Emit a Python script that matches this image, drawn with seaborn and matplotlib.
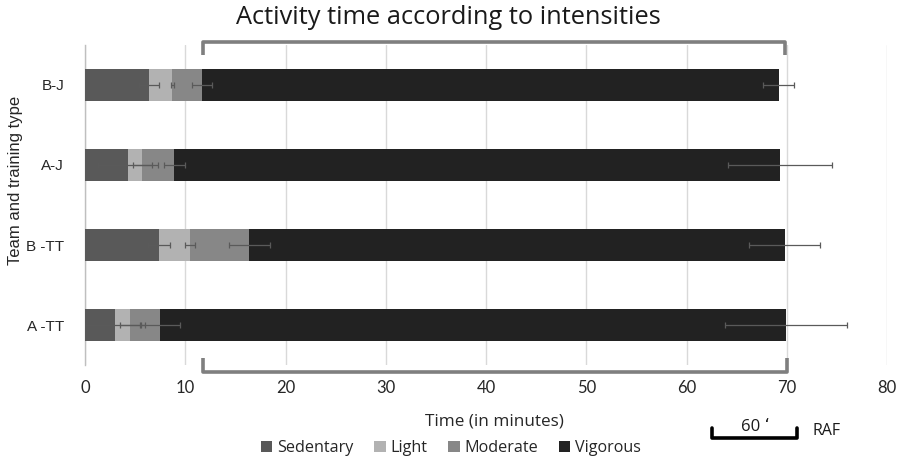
import numpy as np
import pandas as pd
import matplotlib
matplotlib.use("Agg")
import matplotlib.pyplot as plt
import seaborn as sns
from matplotlib.patches import Patch
from matplotlib.transforms import blended_transform_factory

# ---------------- data ----------------
categories = ["B-J", "A-J", "B -TT", "A -TT"]
intensities = ["Sedentary", "Light", "Moderate", "Vigorous"]
sedentary = [6.4, 4.25, 7.4, 3.0]
light = [2.3, 1.45, 3.1, 1.5]
moderate = [3.0, 3.2, 5.9, 3.0]
vigorous = [57.5, 60.4, 53.4, 62.4]
err_sedentary = [1.0, 3.0, 1.1, 3.0]
err_light = [0.15, 0.95, 0.5, 1.05]
err_moderate = [1.0, 1.05, 2.05, 2.0]
err_vigorous = [1.55, 5.2, 3.55, 6.1]
x_ticks = [0, 10, 20, 30, 40, 50, 60, 70, 80]
title = "Activity time according to intensities"
x_label = "Time (in minutes)"
y_label = "Team and training type"

colors = ["#595959", "#b2b2b2", "#878787", "#222222"]

sns.set_theme(style="white")
plt.rcParams["font.family"] = ["Lato", "DejaVu Sans"]

W, H = 902, 461
fig = plt.figure(figsize=(W / 100, H / 100), dpi=100)
ax = fig.add_axes([85 / W, 1 - 365 / H, 802 / W, 320 / H])

segs = np.array([sedentary, light, moderate, vigorous])
errs = np.array([err_sedentary, err_light, err_moderate, err_vigorous])
cum = np.cumsum(segs, axis=0)

# stacked bars: draw cumulative totals from largest to smallest
for i in reversed(range(len(intensities))):
    df = pd.DataFrame({"cat": categories, "val": cum[i]})
    sns.barplot(data=df, x="val", y="cat", order=categories, orient="h",
                color=colors[i], saturation=1, width=0.41, ax=ax,
                linewidth=0, zorder=3)

# error bars on top
for i in range(len(intensities)):
    ax.errorbar(cum[i], np.arange(len(categories)), xerr=errs[i], fmt="none",
                ecolor="#5a5a5a", elinewidth=0.9, capsize=2.5, capthick=0.9,
                zorder=6)

ax.set_xlim(0, 80)
ax.set_ylim(len(categories) - 0.5, -0.5)
ax.set_xticks(x_ticks)
ax.set_xticklabels([str(t) for t in x_ticks])
ax.xaxis.grid(True, color="#d9d9d9", linewidth=1)
ax.yaxis.grid(False)
ax.set_axisbelow(True)
ax.set_xlabel("")
ax.set_ylabel("")
for s in ["top", "right", "bottom"]:
    ax.spines[s].set_visible(False)
ax.spines["left"].set_color("#bfbfbf")
ax.spines["left"].set_linewidth(1)
ax.tick_params(axis="x", length=0, pad=11, labelsize=12, labelcolor="#262626")
ax.tick_params(axis="y", length=0, pad=15, labelsize=11, labelcolor="#262626")
for lbl in ax.get_yticklabels():
    lbl.set_family(["Liberation Sans", "DejaVu Sans"])

OPEN = ["Open Sans", "DejaVu Sans"]
# texts
fig.text(448 / W, 1 - 18 / H, title, ha="center", va="center", fontsize=18.3,
         color="#1a1a1a", family=OPEN)
fig.text(494 / W, 1 - 421 / H, x_label, ha="center", va="center", fontsize=12.3,
         color="#262626", family=OPEN)
fig.text(16 / W, 1 - 180 / H, y_label, ha="center", va="center", rotation=90,
         fontsize=12, color="#262626", family=["Liberation Sans", "DejaVu Sans"])

# legend
handles = [Patch(facecolor=c, edgecolor="none", label=l) for c, l in zip(colors, intensities)]
fig.legend(handles=handles, loc="center", bbox_to_anchor=(451 / W, 1 - 448 / H),
           ncol=4, frameon=False, prop={"family": OPEN, "size": 11.6},
           handlelength=0.7, handleheight=0.7, handletextpad=0.3,
           columnspacing=1.3, labelcolor="#262626")

# decorative brackets (gray), x in data units, y in figure pixels
tr = blended_transform_factory(ax.transData, fig.transFigure)
def fy(p):
    return 1 - p / H
ax.plot([11.8, 11.8, 69.8, 69.8], [fy(55), fy(42), fy(42), fy(55)], transform=tr,
        color="#7f7f7f", lw=2.6, solid_joinstyle="round", solid_capstyle="butt",
        clip_on=False, zorder=7)
ax.plot([11.8, 11.8, 70.0, 70.0], [fy(358), fy(372), fy(372), fy(358)], transform=tr,
        color="#7f7f7f", lw=2.6, solid_joinstyle="round", solid_capstyle="butt",
        clip_on=False, zorder=7)

# "60'" RAF bracket (black)
tf = fig.transFigure
fig.lines.append(plt.Line2D([712 / W, 712 / W, 797 / W, 797 / W],
                            [fy(428), fy(438), fy(438), fy(428)], transform=tf,
                            color="black", lw=2.6, solid_joinstyle="round"))
fig.text(755 / W, 1 - 427 / H, "60 ʻ", ha="center", va="center", fontsize=12,
         color="#1a1a1a", family=OPEN)
fig.text(812 / W, 1 - 431 / H, "RAF", ha="left", va="center", fontsize=11.5,
         color="#1a1a1a", family=OPEN)

fig.savefig("out.png", dpi=100)
